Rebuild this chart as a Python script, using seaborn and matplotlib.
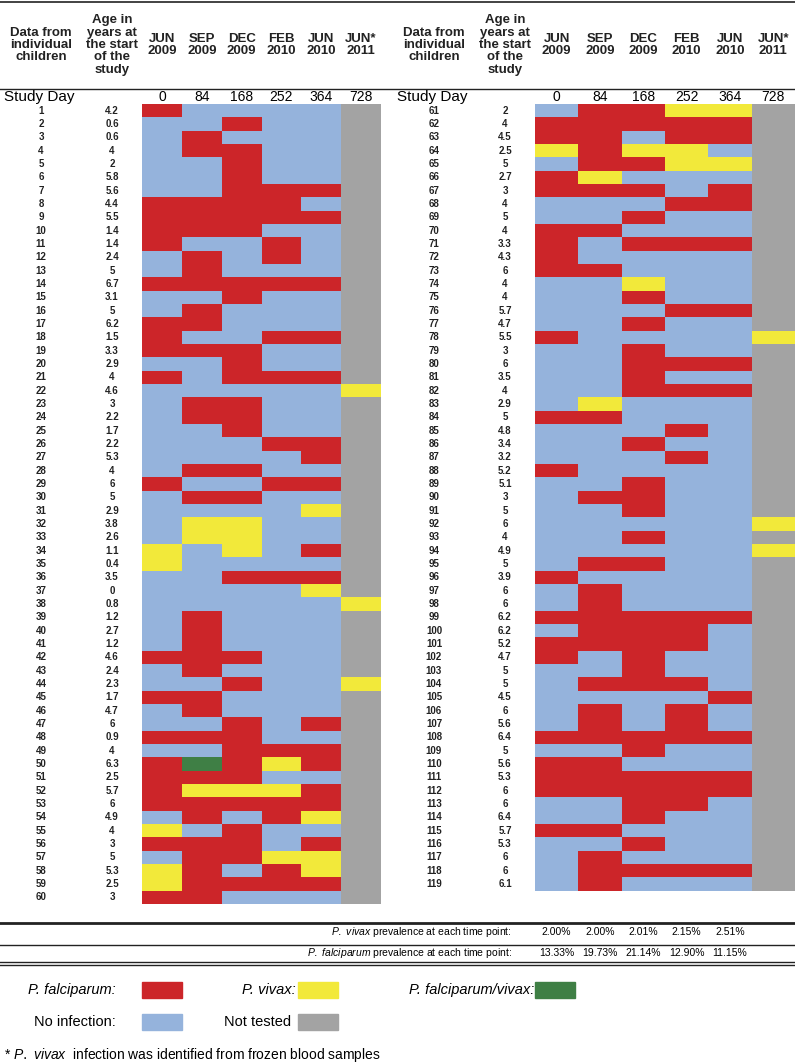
import numpy as np
import pandas as pd
import matplotlib
matplotlib.use("Agg")
import matplotlib.pyplot as plt
from matplotlib.colors import ListedColormap
from matplotlib.patches import Rectangle
import seaborn as sns

plt.rcParams["font.family"] = "Liberation Sans"
plt.rcParams["mathtext.fontset"] = "custom"
plt.rcParams["mathtext.it"] = "Liberation Sans:italic"

# %% data
# codes: N no infection, F P. falciparum, V P. vivax, M mixed, X not tested
TIME_POINTS = ["JUN\n2009", "SEP\n2009", "DEC\n2009", "FEB\n2010", "JUN\n2010", "JUN*\n2011"]
STUDY_DAYS = ["0", "84", "168", "252", "364", "728"]

LEFT_IDS = list(range(1, 61))
LEFT_AGES = ["4.2", "0.6", "0.6", "4", "2", "5.8", "5.6", "4.4", "5.5", "1.4",
             "1.4", "2.4", "5", "6.7", "3.1", "5", "6.2", "1.5", "3.3", "2.9",
             "4", "4.6", "3", "2.2", "1.7", "2.2", "5.3", "4", "6", "5",
             "2.9", "3.8", "2.6", "1.1", "0.4", "3.5", "0", "0.8", "1.2", "2.7",
             "1.2", "4.6", "2.4", "2.3", "1.7", "4.7", "6", "0.9", "4", "6.3",
             "2.5", "5.7", "6", "4.9", "4", "3", "5", "5.3", "2.5", "3"]
LEFT_STATUS = [
    "FNNNNX", "NNFNNX", "NFNNNX", "NFFNNX", "NNFNNX", "NNFNNX", "NNFFFX", "FFFFNX", "FFFFFX", "FFFNNX",
    "FNNFNX", "NFNFNX", "NFNNNX", "FFFFFX", "NNFNNX", "NFNNNX", "FFNNNX", "FNNFFX", "FFFNNX", "NNFNNX",
    "FNFFFX", "NNNNNV", "NFFNNX", "NFFNNX", "NNFNNX", "NNNFFX", "NNNNFX", "NFFNNX", "FNNFFX", "NFFNNX",
    "NNNNVX", "NVVNNX", "NVVNNX", "VNVNFX", "VNNNNX", "NNFFFX", "NNNNVX", "NNNNNV", "NFNNNX", "NFNNNX",
    "NFNNNX", "FFFNNX", "NFNNNX", "NNFNNV", "FFNNNX", "NFNNNX", "NNFNFX", "FFFNNX", "NNFFFX", "FMFVFX",
    "FFFNNX", "FVVVFX", "FFFFFX", "NFNFVX", "VNFNNX", "FFFNFX", "NFFVVX", "VFNFVX", "VFFFFX", "FFNNNX",
]

RIGHT_IDS = list(range(61, 120))
RIGHT_AGES = ["2", "4", "4.5", "2.5", "5", "2.7", "3", "4", "5", "4",
              "3.3", "4.3", "6", "4", "4", "5.7", "4.7", "5.5", "3", "6",
              "3.5", "4", "2.9", "5", "4.8", "3.4", "3.2", "5.2", "5.1", "3",
              "5", "6", "4", "4.9", "5", "3.9", "6", "6", "6.2", "6.2",
              "5.2", "4.7", "5", "5", "4.5", "6", "5.6", "6.4", "5", "5.6",
              "5.3", "6", "6", "6.4", "5.7", "5.3", "6", "6", "6.1"]
RIGHT_STATUS = [
    "NFFVVX", "FFFFFX", "FFNFFX", "VFVVNX", "NFFVVX", "FVNNNX", "FFFNFX", "NNNFFX", "NNFNNX", "FFNNNX",
    "FNFFFX", "FNNNNX", "FFNNNX", "NNVNNX", "NNFNNX", "NNNFFX", "NNFNNX", "FNNNNV", "NNFNNX", "NNFFFX",
    "NNFNNX", "NNFFFX", "NVNNNX", "FFNNNX", "NNNFNX", "NNFNNX", "NNNFNX", "FNNNNX", "NNFNNX", "NFFNNX",
    "NNFNNX", "NNNNNV", "NNFNNX", "NNNNNV", "NFFNNX", "FNNNNX", "NFNNNX", "NFNNNX", "FFFFFX", "NFFFNX",
    "FFFFNX", "FNFNNX", "NNFNNX", "NFFFNX", "NNNNFX", "NFNFNX", "NFNFNX", "FFFFFX", "NNFNNX", "FFNNNX",
    "FFFFFX", "FFFFFX", "NNFFNX", "NNFNNX", "FFNNNX", "NNFNNX", "NFNNNX", "NFFFFX", "NFNNNX",
]

VIVAX_PREVALENCE = ["2.00%", "2.00%", "2.01%", "2.15%", "2.51%"]
FALCIPARUM_PREVALENCE = ["13.33%", "19.73%", "21.14%", "12.90%", "11.15%"]

CODES = {"N": 0, "F": 1, "V": 2, "M": 3, "X": 4}
COLORS = ["#95B3DC", "#CC2529", "#F2E93A", "#3F7F45", "#A3A3A3"]

W, H = 795, 1064
ROW_H = 800 / 60


def status_df(status, ids):
    return pd.DataFrame([[CODES[c] for c in s] for s in status], index=ids, columns=STUDY_DAYS)


def px_axes(fig, x0, y0, x1, y1):
    return fig.add_axes([x0 / W, 1 - y1 / H, (x1 - x0) / W, (y1 - y0) / H])


fig = plt.figure(figsize=(W / 100, H / 100), dpi=100)
cmap = ListedColormap(COLORS)

# %% heatmaps
for status, ids, x0, x1 in [(LEFT_STATUS, LEFT_IDS, 142, 381), (RIGHT_STATUS, RIGHT_IDS, 535, 795)]:
    ax = px_axes(fig, x0, 104, x1, 104 + ROW_H * len(ids))
    sns.heatmap(status_df(status, ids), ax=ax, cmap=cmap, vmin=-0.5, vmax=4.5, cbar=False,
                xticklabels=False, yticklabels=False)
    ax.set_xlabel("")
    ax.set_ylabel("")

# %% text overlay
ov = fig.add_axes([0, 0, 1, 1], zorder=-1)
ov.set_xlim(0, W)
ov.set_ylim(H, 0)
ov.axis("off")
bold = dict(fontweight="bold", ha="center", va="center", color="#222222")

for x_off, ids, ages, cw in [(0, LEFT_IDS, LEFT_AGES, 239 / 6), (393, RIGHT_IDS, RIGHT_AGES, 260 / 6)]:
    x_heat = 142 if x_off == 0 else 535
    ov.text(41 + x_off, 45, "Data from\nindividual\nchildren", fontsize=9.5, linespacing=1.05, **bold)
    ov.text(112 + x_off, 45, "Age in\nyears at\nthe start\nof the\nstudy", fontsize=9.5, linespacing=1.05, **bold)
    for i, (tp, day) in enumerate(zip(TIME_POINTS, STUDY_DAYS)):
        cx = x_heat + cw * (i + 0.5)
        ov.text(cx, 45, tp, fontsize=9.5, linespacing=1.05, **bold)
        ov.text(cx, 97, day, fontsize=10, ha="center", va="center")
    ov.text(4 + x_off, 97, "Study Day", fontsize=11, ha="left", va="center")
    for k, (cid, age) in enumerate(zip(ids, ages)):
        y = 104 + ROW_H * (k + 0.5)
        ov.text(41 + x_off, y, str(cid), fontsize=7, **bold)
        ov.text(112 + x_off, y, age, fontsize=7, **bold)

ov.plot([0, W], [2, 2], color="#222222", lw=1.2)
ov.plot([0, W], [89, 89], color="#222222", lw=1)

# %% prevalence rows
ov.plot([0, W], [923, 923], color="#222222", lw=2)
ov.plot([0, W], [945, 945], color="#222222", lw=1)
ov.plot([0, W], [962, 962], color="#222222", lw=1)
ov.plot([0, W], [965, 965], color="#222222", lw=1)
cw = 260 / 6
ov.text(512, 932, "$\\it{P.\\ vivax}$ prevalence at each time point:", fontsize=7.5, ha="right", va="center")
ov.text(512, 953, "$\\it{P.\\ falciparum}$ prevalence at each time point:", fontsize=7.5, ha="right", va="center")
for i, (v, f) in enumerate(zip(VIVAX_PREVALENCE, FALCIPARUM_PREVALENCE)):
    cx = 535 + cw * (i + 0.5)
    ov.text(cx, 932, v, fontsize=7.5, ha="center", va="center")
    ov.text(cx, 953, f, fontsize=7.5, ha="center", va="center")

# %% legend
legend_items = [
    ("P. falciparum:", True, 116, 142, 990, COLORS[1]),
    ("P. vivax:", True, 296, 298, 990, COLORS[2]),
    ("P. falciparum/vivax:", True, 534, 535, 990, COLORS[3]),
    ("No infection:", False, 116, 142, 1022, COLORS[0]),
    ("Not tested", False, 291, 298, 1022, COLORS[4]),
]
for label, italic, tx, bx, y, color in legend_items:
    ov.text(tx, y, label, fontsize=10.5, style="italic" if italic else "normal", ha="right", va="center")
    ov.add_patch(Rectangle((bx, y - 8), 40, 16, color=color))

ov.text(4, 1055, "* $\\it{P.\\ vivax}$  infection was identified from frozen blood samples", fontsize=10, ha="left", va="center")

fig.savefig("out.png", dpi=100)
